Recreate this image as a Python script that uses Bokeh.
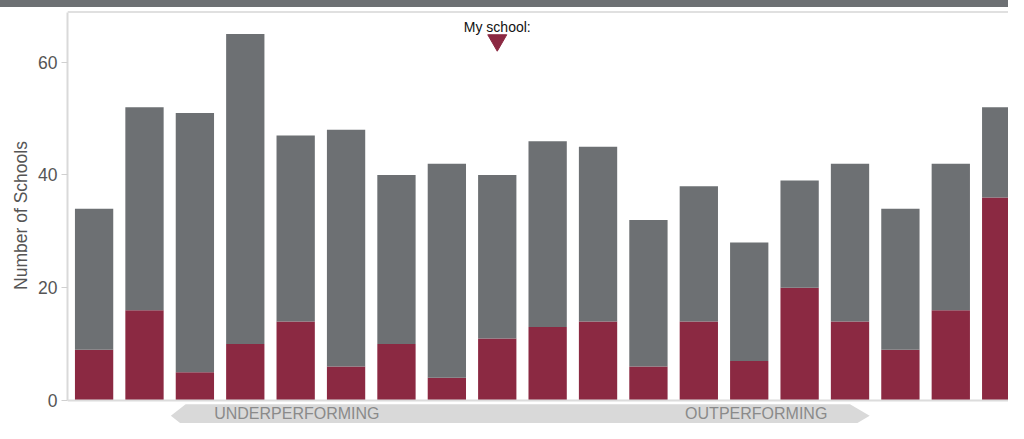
from bokeh.plotting import figure
from bokeh.models import ColumnDataSource, Range1d, Span, FixedTicker, Div
from bokeh.layouts import column
from bokeh.core.properties import value
from bokeh.embed import file_html
from bokeh.resources import INLINE

# ---- data ----
bins = list(range(1, 20))
highlighted = [9, 16, 5, 10, 14, 6, 10, 4, 11, 13, 14, 6, 14, 7, 20, 14, 9, 16, 36]
others = [25, 36, 46, 55, 33, 42, 30, 38, 29, 33, 31, 26, 24, 21, 19, 28, 25, 26, 16]
y_ticks = [0, 20, 40, 60]
my_school_bin = 9
my_school_label = "My school:"
left_label = "UNDERPERFORMING"
right_label = "OUTPERFORMING"
y_title = "Number of Schools"

RED = "#8b2942"
GRAY = "#6d7073"
FONT = "Liberation Sans"

source = ColumnDataSource(dict(bin=bins, highlighted=highlighted, others=others))

fig = figure(width=1008, height=416, output_backend="svg", toolbar_location=None,
             x_range=Range1d(0.4722, 19.145), y_range=Range1d(-4.10, 69.71),
             x_axis_location=None, min_border_left=67, min_border_right=0,
             min_border_top=0, min_border_bottom=0)
fig.outline_line_color = None
fig.xgrid.visible = False
fig.ygrid.visible = False
fig.background_fill_color = "white"
fig.border_fill_color = "white"

fig.vbar_stack(["highlighted", "others"], x="bin", width=0.76, color=[RED, GRAY],
               line_color=None, source=source)

# frame lines
fig.add_layout(Span(location=0, dimension="width", line_color="#dcdcdc", line_width=2))
fig.add_layout(Span(location=68.9, dimension="width", line_color="#e0e0e0", line_width=2))

ax = fig.yaxis[0]
ax.ticker = FixedTicker(ticks=y_ticks)
ax.bounds = (0, 68.9)
ax.axis_line_color = "#d9d9d9"
ax.axis_line_width = 2
ax.major_tick_line_color = "#d0d0d0"
ax.major_tick_out = 6
ax.major_tick_in = 0
ax.minor_tick_line_color = None
ax.major_label_standoff = 4
ax.major_label_text_font = FONT
ax.major_label_text_font_size = "17.5px"
ax.major_label_text_color = "#555555"
ax.axis_label = y_title
ax.axis_label_text_font = FONT
ax.axis_label_text_font_size = "17.5px"
ax.axis_label_text_font_style = "normal"
ax.axis_label_text_color = "#555555"
ax.axis_label_standoff = 4

# "My school" marker
fig.text(x=[my_school_bin], y=[66.3], text=[my_school_label], text_font=value(FONT),
         text_font_size="14px", text_align="center", text_baseline="alphabetic",
         text_color="#111111")
fig.scatter(x=[my_school_bin], y=[63.9], marker="inverted_triangle", size=19,
            fill_color=RED, line_color=RED)

# bottom banner arrow
fig.patch(x=[2.523, 2.816, 16.0, 16.39, 16.0, 2.816],
          y=[-2.735, -0.684, -0.684, -2.735, -4.786, -4.786],
          fill_color="#d9d9d9", line_color=None)
fig.text(x=[3.383], y=[-2.4], text=[left_label], text_font=value(FONT),
         text_font_size="16px", text_align="left", text_baseline="middle",
         text_color="#8a8a8a")
fig.text(x=[15.55], y=[-2.4], text=[right_label], text_font=value(FONT),
         text_font_size="16px", text_align="right", text_baseline="middle",
         text_color="#8a8a8a")

band = Div(text="", width=1008, height=7, margin=(0, 0, 0, 0),
           styles={"background-color": GRAY})

p = column(band, fig, spacing=0)

open("out.html", "w").write(file_html(p, INLINE))
